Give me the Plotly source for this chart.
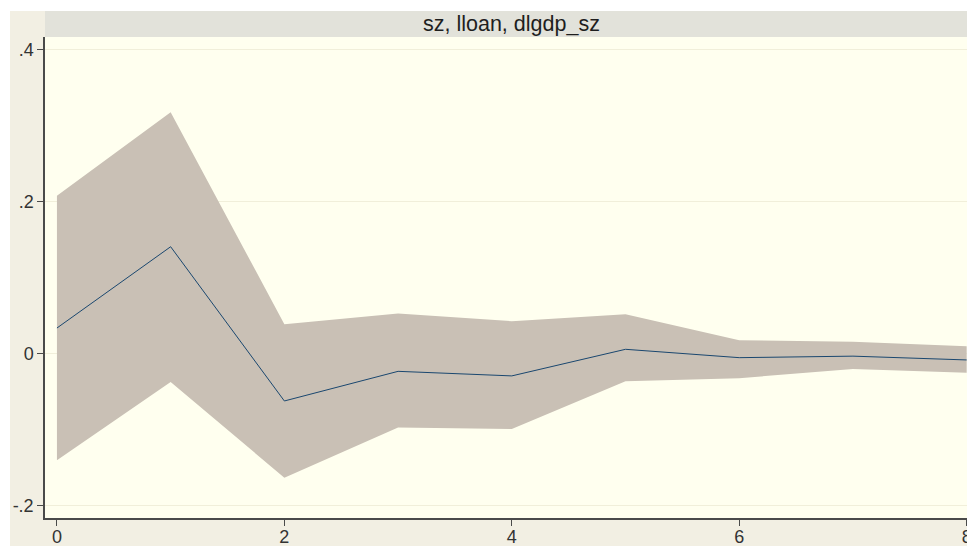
import plotly.graph_objects as go

# Impulse response: sz, lloan, dlgdp_sz
steps = [0, 1, 2, 3, 4, 5, 6, 7, 8]
irf = [0.034, 0.141, -0.062, -0.023, -0.029, 0.006, -0.005, -0.003, -0.008]
upper = [0.208, 0.318, 0.039, 0.053, 0.043, 0.052, 0.018, 0.016, 0.010]
lower = [-0.140, -0.037, -0.163, -0.097, -0.099, -0.036, -0.032, -0.020, -0.025]

y_ticks = [-0.2, 0, 0.2, 0.4]
y_labels = ["-.2", "0", ".2", ".4"]
x_ticks = [0, 2, 4, 6, 8]
title_text = "sz, lloan, dlgdp_sz"

OUTER_BG = "#F2EFE3"
TITLE_BG = "#E2E2DA"
PLOT_BG = "#FFFFEF"
BAND = "#C9C0B5"
LINE = "#1A476F"
AXIS = "#4A4A4A"
FONT = "Liberation Sans, Arial, sans-serif"

fig = go.Figure()
fig.add_trace(go.Scatter(x=steps, y=lower, mode="lines", line=dict(width=0),
                         hoverinfo="skip", showlegend=False))
fig.add_trace(go.Scatter(x=steps, y=upper, mode="lines", line=dict(width=0),
                         fill="tonexty", fillcolor=BAND, hoverinfo="skip",
                         showlegend=False))
fig.add_trace(go.Scatter(x=steps, y=irf, mode="lines",
                         line=dict(color=LINE, width=1), showlegend=False))

W, H = 967, 546
ml, mr, mt, mb = 45, 0, 37, 28
pw, ph = W - ml - mr, H - mt - mb


def px(x):
    return (x - ml) / pw


def py(y):
    return (H - mb - y) / ph


shapes = [
    # outer panel
    dict(type="rect", xref="paper", yref="paper", x0=px(10), x1=1.0,
         y0=py(H + 5), y1=py(11), fillcolor=OUTER_BG, line=dict(width=0),
         layer="below"),
    # plot region
    dict(type="rect", xref="paper", yref="paper", x0=0, x1=1,
         y0=0, y1=1, fillcolor=PLOT_BG, line=dict(width=0), layer="below"),
    # title strip
    dict(type="rect", xref="paper", yref="paper", x0=0, x1=1,
         y0=1, y1=py(11), fillcolor=TITLE_BG, line=dict(width=0),
         layer="below"),
]

fig.update_layout(
    width=W, height=H,
    margin=dict(l=ml, r=mr, t=mt, b=mb, pad=0, autoexpand=False),
    paper_bgcolor="white",
    plot_bgcolor=PLOT_BG,
    shapes=shapes,
    font=dict(family=FONT, color="#333333", size=18),
    annotations=[dict(text=title_text, xref="paper", yref="paper",
                      x=px(511), y=py(24), xanchor="center", yanchor="middle",
                      showarrow=False,
                      font=dict(family=FONT, size=21.5, color="#1E1E1E"))],
)

fig.update_xaxes(
    range=[-0.105, 8.003], tickvals=x_ticks, ticks="outside", ticklen=6,
    tickcolor=AXIS, tickwidth=1, showgrid=False, zeroline=False,
    showline=True, linecolor=AXIS, linewidth=1.5, ticklabeloverflow="allow",
    ticklabelstandoff=-4, automargin=False,
    tickfont=dict(size=18, color="#333333"),
)
fig.update_yaxes(
    range=[-0.216, 0.417], tickvals=y_ticks, ticktext=y_labels,
    ticks="outside", ticklen=6, tickcolor=AXIS, tickwidth=1,
    showgrid=True, gridcolor="#F1EFDA", gridwidth=1, zeroline=False,
    showline=True, linecolor=AXIS, linewidth=1.5, automargin=False,
    tickfont=dict(size=18, color="#333333"),
)

fig.write_html("out.html")
